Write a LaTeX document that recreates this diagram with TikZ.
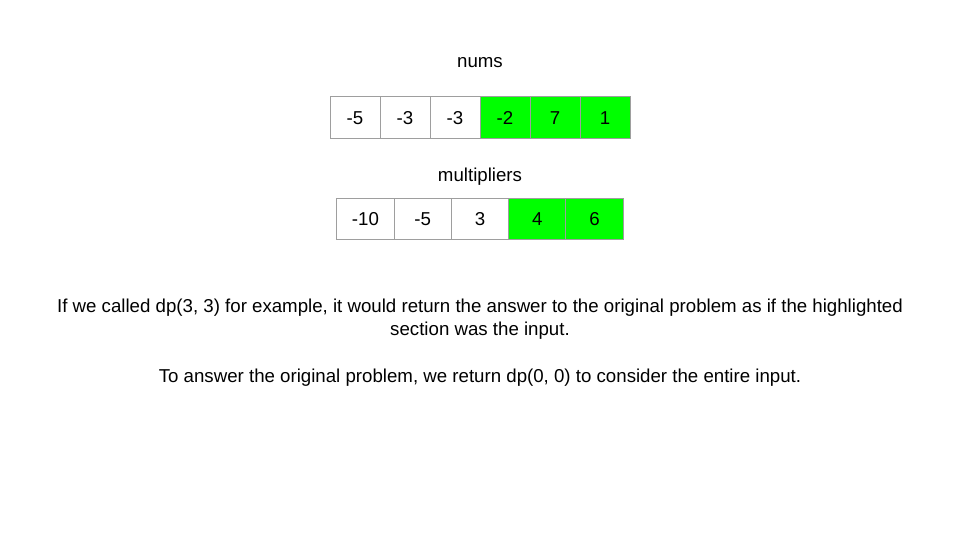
\documentclass[tikz,border=0pt]{standalone}
\usepackage{fontspec}
\setmainfont{Liberation Sans}
\definecolor{gridgray}{HTML}{9E9E9E}
\definecolor{hlgreen}{HTML}{00FF00}
\begin{document}
\begin{tikzpicture}[x=1pt,y=-1pt,
  txt/.style={font=\fontsize{18.67}{22}\selectfont, inner sep=0pt, anchor=base},
  cellbase/.style={draw=gridgray, line width=1pt, inner sep=0pt, font=\fontsize{18.67}{22}\selectfont},
  numcell/.style={cellbase, minimum width=50pt, minimum height=42pt},
  mulcell/.style={cellbase, minimum width=57.3pt, minimum height=41pt},
  hl/.style={fill=hlgreen}]
\fill[white] (0,0) rectangle (960,540);
\useasboundingbox (0,0) rectangle (960,540);

\node[txt] (numslabel) at (480,67.3) {nums};
\node[numcell] (n1) at (355,117.7) {-5};
\node[numcell] (n2) at (405,117.7) {-3};
\node[numcell] (n3) at (455,117.7) {-3};
\node[numcell,hl] (n4) at (505,117.7) {-2};
\node[numcell,hl] (n5) at (555,117.7) {7};
\node[numcell,hl] (n6) at (605,117.7) {1};

\node[txt] (mullabel) at (480,181.3) {multipliers};
\node[mulcell] (m1) at (365.4,218.8) {-10};
\node[mulcell] (m2) at (422.7,218.8) {-5};
\node[mulcell] (m3) at (480.0,218.8) {3};
\node[mulcell,hl] (m4) at (537.3,218.8) {4};
\node[mulcell,hl] (m5) at (594.6,218.8) {6};

\node[txt] (line1) at (480,312.3) {If we called dp(3, 3) for example, it would return the answer to the original problem as if the highlighted};
\node[txt] (line2) at (480,335.3) {section was the input.};
\node[txt] (line3) at (480,382.3) {To answer the original problem, we return dp(0, 0) to consider the entire input.};
\end{tikzpicture}
\end{document}
